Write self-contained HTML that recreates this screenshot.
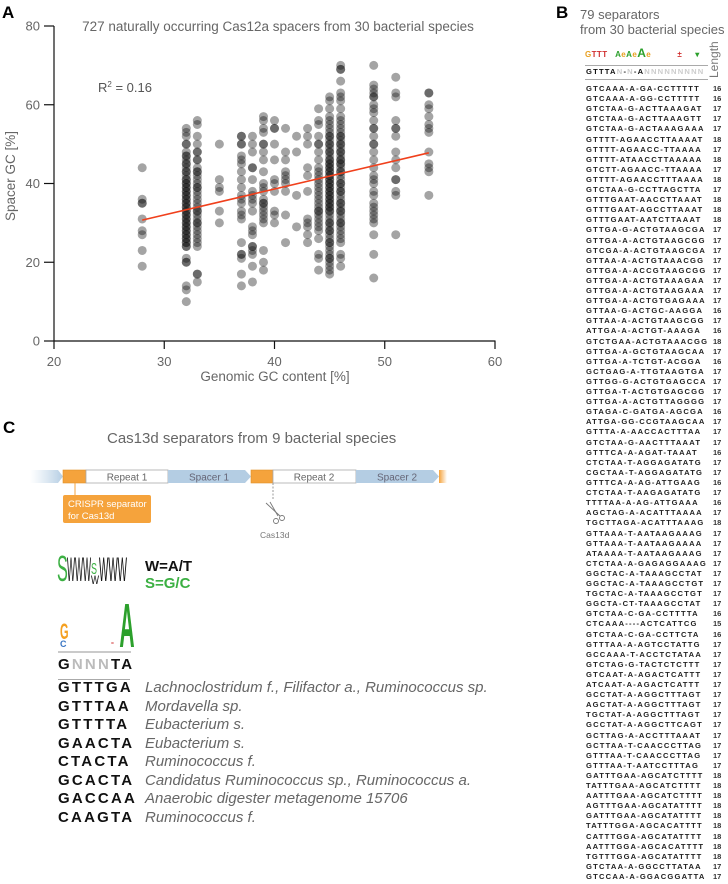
<!DOCTYPE html>
<html><head><meta charset="utf-8">
<style>
body{margin:0;background:#fff;width:728px;height:884px;overflow:hidden;position:relative;font-family:"Liberation Sans",sans-serif}
.abs{position:absolute}
.pl{font-weight:bold;font-size:17px;color:#000}
.seqrow{position:absolute;left:586px;font-family:"Liberation Sans",sans-serif;font-weight:bold;font-size:7.6px;letter-spacing:1.2px;color:#222;white-space:pre;line-height:10px}
.lenc{position:absolute;left:713px;font-size:7.5px;font-weight:bold;color:#333;line-height:10px}
.cseq{position:absolute;left:58px;font-weight:bold;font-size:15px;letter-spacing:2.2px;color:#111;line-height:18px}
.csp{position:absolute;left:145px;font-style:italic;font-size:15px;color:#666;line-height:18px;white-space:nowrap}
</style></head><body>
<div class="abs pl" style="left:2px;top:3px">A</div>
<div class="abs pl" style="left:556px;top:3px">B</div>
<div class="abs pl" style="left:3px;top:418px">C</div>

<svg class="abs" style="left:0;top:0" width="560" height="390">
<text x="278" y="31" text-anchor="middle" font-size="13.5" fill="#666">727 naturally occurring Cas12a spacers from 30 bacterial species</text>
<text x="98" y="92" font-size="13" fill="#555">R<tspan font-size="8" dy="-5">2</tspan><tspan dy="5"> = 0.16</tspan></text>
<g id="pts"></g>
<g id="axes"></g>
<text transform="translate(15,176) rotate(-90)" text-anchor="middle" font-size="13.5" fill="#666">Spacer GC [%]</text>
<text x="275" y="381" text-anchor="middle" font-size="13.5" fill="#666">Genomic GC content [%]</text>
</svg>
<script>
const xTicks=[20,30,40,50,60];
const yTicks=[0,20,40,60,80];
const colX=[28,32,33,35,37,38,39,40,41,42,43,44,45,46,49,51,54];
const colY=[
[44,36,35,35,31,28,27,23,19],
[54,53,52,50,50,48,47,47,46,45,45,44,43,43,42,41,41,40,40,39,39,38,38,37,37,36,36,35,35,34,34,33,33,32,32,31,31,30,30,29,29,28,28,27,27,26,26,25,25,24,24,21,20,20,14,13,10],
[56,55,52,50,48,48,46,46,44,43,43,42,41,40,39,39,38,37,36,35,34,33,33,32,31,30,30,29,28,27,26,25,24,17,17,15],
[50,41,39,38,33,30],
[52,52,50,50,47,46,45,43,41,39,37,36,35,33,32,31,25,22,22,21,17,14],
[52,50,48,44,44,41,38,37,36,35,33,29,28,27,24,24,23,22,19,15],
[57,56,54,53,50,50,48,46,43,40,39,38,36,35,35,34,33,32,31,30,23,20,18],
[56,54,54,50,46,41,40,38,33,32,30],
[54,48,46,43,42,41,40,38,32,25],
[52,48,37,29],
[54,52,50,44,42,38,31,30,29,27,25],
[59,56,55,52,50,50,48,46,44,43,42,41,40,39,38,37,36,35,34,33,33,32,31,30,29,28,26,22,21,18],
[62,61,59,57,56,55,54,53,52,52,51,50,50,49,48,48,47,46,46,45,45,44,44,43,43,42,42,41,41,40,40,39,39,38,38,37,37,36,36,35,35,34,34,33,33,32,31,30,30,29,28,28,27,26,25,25,24,23,22,21,21,20,19,18,17],
[70,69,69,66,63,62,61,59,57,56,55,54,53,52,52,51,50,50,49,48,48,47,46,46,45,45,44,43,43,42,41,40,40,39,38,38,37,36,35,35,34,33,33,32,31,30,30,29,28,27,26,25,22,21,19],
[70,65,64,63,62,62,60,59,58,56,54,54,52,50,50,48,46,44,42,41,40,38,37,35,34,33,32,31,30,27,22,16],
[67,63,62,56,54,54,52,48,46,44,41,41,38,37,27],
[63,63,60,59,57,55,54,53,48,45,44,43,37]];
const fitX=[28,54];
const fitY=[30.7,47.8];
const sx=v=>54+(v-20)*(441/40);
const sy=v=>341-v*(315/80);
const NS='http://www.w3.org/2000/svg';
const pg=document.getElementById('pts');
colX.forEach((x,i)=>{colY[i].forEach(y=>{
 const c=document.createElementNS(NS,'circle');
 c.setAttribute('cx',sx(x));c.setAttribute('cy',sy(y));c.setAttribute('r',4.5);
 c.setAttribute('fill','#111');c.setAttribute('fill-opacity','0.38');
 
 
 pg.appendChild(c);});});
const ln=document.createElementNS(NS,'line');
ln.setAttribute('x1',sx(fitX[0]));ln.setAttribute('y1',sy(fitY[0]));
ln.setAttribute('x2',sx(fitX[1]));ln.setAttribute('y2',sy(fitY[1]));
ln.setAttribute('stroke','#f0401c');ln.setAttribute('stroke-width','1.6');


pg.appendChild(ln);
const ax=document.getElementById('axes');
let h='<line x1="54" y1="26" x2="54" y2="341.5" stroke="#111" stroke-width="1.2"/><line x1="54" y1="341" x2="495.5" y2="341" stroke="#111" stroke-width="1.2"/>';
yTicks.forEach(t=>{h+=`<line x1="44" y1="${sy(t)}" x2="54" y2="${sy(t)}" stroke="#111" stroke-width="1.2"/><text x="40" y="${sy(t)+4.5}" text-anchor="end" font-size="13" fill="#666">${t}</text>`;});
xTicks.forEach(t=>{h+=`<line x1="${sx(t)}" y1="341" x2="${sx(t)}" y2="349" stroke="#111" stroke-width="1.2"/><text x="${sx(t)}" y="366" text-anchor="middle" font-size="13" fill="#666">${t}</text>`;});
ax.innerHTML=h;
</script>

<div class="abs" style="left:580px;top:7px;font-size:13px;color:#666;line-height:15px">79 separators<br>from 30 bacterial species</div>
<div class="abs" style="left:585px;top:46px;font-size:8px;font-weight:bold;letter-spacing:0.4px;white-space:pre"><span style="color:#e8a020">G</span><span style="color:#d03030">T</span><span style="color:#d03030">T</span><span style="color:#d03030">T</span>   <span style="color:#2ca02c">A</span><span style="color:#e8a020">e</span><span style="color:#2ca02c">A</span><span style="color:#e8a020">e</span><span style="color:#2ca02c;font-size:12px">A</span><span style="color:#e8a020">e</span>          <span style="color:#d03030">±</span>     <span style="color:#2ca02c">▾</span></div>
<div class="abs" style="left:585px;top:65px;width:123px;border-top:1px solid #aaa"></div>
<div class="seqrow" style="top:67px;color:#111">GTTTA<span style="color:#ccc">N</span>-<span style="color:#ccc">N</span>-A<span style="color:#ccc">NNNNNNNNN</span></div>
<div class="abs" style="left:585px;top:79px;width:123px;border-top:1px solid #aaa"></div>
<div class="abs" style="left:707px;top:78px;transform:rotate(-90deg);transform-origin:0 0;font-size:12px;color:#777">Length</div>
<div id="seqs"></div>
<script>
const seqB=["GTCAAA-A-GA-CCTTTTT","GTCAAA-A-GG-CCTTTTT","GTCTAA-G-ACTTAAAGAT","GTCTAA-G-ACTTAAAGTT","GTCTAA-G-ACTAAAGAAA","GTTTT-AGAACCTTAAAAT","GTTTT-AGAACC-TTAAAA","GTTTT-ATAACCTTAAAAA","GTCTT-AGAACC-TTAAAA","GTTTT-AGAACCTTTAAAA","GTCTAA-G-CCTTAGCTTA","GTTTGAAT-AACCTTAAAT","GTTTGAAT-AGCCTTAAAT","GTTTGAAT-AATCTTAAAT","GTTGA-G-ACTGTAAGCGA","GTTGA-A-ACTGTAAGCGG","GTCGA-A-ACTGTAAGCGA","GTTAA-A-ACTGTAAACGG","GTTGA-A-ACCGTAAGCGG","GTTGA-A-ACTGTAAAGAA","GTTGA-A-ACTGTAAGAAA","GTTGA-A-ACTGTGAGAAA","GTTAA-G-ACTGC-AAGGA","GTTAA-A-ACTGTAAGCGG","ATTGA-A-ACTGT-AAAGA","GTCTGAA-ACTGTAAACGG","GTTGA-A-GCTGTAAGCAA","GTTGA-A-TCTGT-ACGGA","GCTGAG-A-TTGTAAGTGA","GTTGG-G-ACTGTGAGCCA","GTTGA-T-ACTGTGAGCGG","GTTGA-A-ACTGTTAGGGG","GTAGA-C-GATGA-AGCGA","ATTGA-GG-CCGTAAGCAA","GTTTA-A-AACCACTTTAA","GTCTAA-G-AACTTTAAAT","GTTTCA-A-AGAT-TAAAT","CTCTAA-T-AGGAGATATG","CGCTAA-T-AGGAGATATG","GTTTCA-A-AG-ATTGAAG","CTCTAA-T-AAGAGATATG","TTTTAA-A-AG-ATTGAAA","AGCTAG-A-ACATTTAAAA","TGCTTAGA-ACATTTAAAG","GTTAAA-T-AATAAGAAAG","GTTAAA-T-AATAAGAAAA","ATAAAA-T-AATAAGAAAG","CTCTAA-A-GAGAGGAAAG","GGCTAC-A-TAAAGCCTAT","GGCTAC-A-TAAAGCCTGT","TGCTAC-A-TAAAGCCTGT","GGCTA-CT-TAAAGCCTAT","GTCTAA-C-GA-CCTTTTA","CTCAAA----ACTCATTCG","GTCTAA-C-GA-CCTTCTA","GTTTAA-A-AGTCCTATTG","GCCAAA-T-ACCTCTATAA","GTCTAG-G-TACTCTCTTT","GTCAAT-A-AGACTCATTT","ATCAAT-A-AGACTCATTT","GCCTAT-A-AGGCTTTAGT","AGCTAT-A-AGGCTTTAGT","TGCTAT-A-AGGCTTTAGT","GCCTAT-A-AGGCTTCAGT","GCTTAG-A-ACCTTTAAAT","GCTTAA-T-CAACCCTTAG","GTTTAA-T-CAACCCTTAG","GTTTAA-T-AATCCTTTAG","GATTTGAA-AGCATCTTTT","TATTTGAA-AGCATCTTTT","AATTTGAA-AGCATCTTTT","AGTTTGAA-AGCATATTTT","GATTTGAA-AGCATATTTT","TATTTGGA-AGCACATTTT","CATTTGGA-AGCATATTTT","AATTTGGA-AGCACATTTT","TGTTTGGA-AGCATATTTT","GTCTAA-A-GGCCTTATAA","GTCCAA-A-GGACGGATTA"];
const cont=document.getElementById('seqs');
const step=(877-89)/(seqB.length-1);
seqB.forEach((s,i)=>{
 const d=document.createElement('div');d.className='seqrow';d.style.top=(84+i*step)+'px';d.textContent=s;
 
 
 cont.appendChild(d);
 const l=document.createElement('div');l.className='lenc';l.style.top=(84+i*step)+'px';l.textContent=s.replace(/-/g,'').length;
 
 
 cont.appendChild(l);
});
</script>

<div class="abs" style="left:107px;top:430px;font-size:15px;color:#666">Cas13d separators from 9 bacterial species</div>
<svg class="abs" style="left:0;top:460px" width="460" height="90">
<defs><linearGradient id="fl" x1="0" x2="1"><stop offset="0" stop-color="#c5d9ea" stop-opacity="0"/><stop offset="1" stop-color="#b4cde3"/></linearGradient>
<linearGradient id="fr" x1="0" x2="1"><stop offset="0" stop-color="#f5a33c"/><stop offset="1" stop-color="#f5a33c" stop-opacity="0"/></linearGradient></defs>
<polygon points="30,10 58,10 63,16.5 58,23 30,23" fill="url(#fl)"/>
<rect x="63" y="10" width="23" height="13" fill="#f5a33c" stroke="#e0902a" stroke-width="0.6"/>
<rect x="86" y="10" width="82" height="13" fill="#fff" stroke="#aaa" stroke-width="0.8"/>
<text x="127" y="20.5" text-anchor="middle" font-size="10" fill="#666">Repeat 1</text>
<polygon points="168,10 245,10 251,16.5 245,23 168,23" fill="#b4cde3"/>
<text x="209" y="20.5" text-anchor="middle" font-size="10" fill="#667">Spacer 1</text>
<rect x="251" y="10" width="22" height="13" fill="#f5a33c" stroke="#e0902a" stroke-width="0.6"/>
<rect x="273" y="10" width="83" height="13" fill="#fff" stroke="#aaa" stroke-width="0.8"/>
<text x="314" y="20.5" text-anchor="middle" font-size="10" fill="#666">Repeat 2</text>
<polygon points="356,10 433,10 439,16.5 433,23 356,23" fill="#b4cde3"/>
<text x="397" y="20.5" text-anchor="middle" font-size="10" fill="#667">Spacer 2</text>
<rect x="439" y="10" width="8" height="13" fill="url(#fr)"/>
<line x1="75" y1="23" x2="75" y2="35" stroke="#f5a33c" stroke-width="1"/>
<rect x="63" y="35" width="88" height="28" rx="2" fill="#f5a33c"/>
<text x="68" y="47" font-size="9.5" fill="#fff">CRISPR separator</text>
<text x="68" y="59" font-size="9.5" fill="#fff">for Cas13d</text>
<line x1="273" y1="23" x2="273" y2="40" stroke="#999" stroke-width="1" stroke-dasharray="2,1.5"/>
<g stroke="#777" fill="none" stroke-width="0.9"><line x1="266" y1="43" x2="280" y2="56"/><line x1="270" y1="42" x2="278" y2="56"/><circle cx="276" cy="61" r="2.5"/><circle cx="282" cy="58" r="2.5"/></g>
<text x="260" y="78" font-size="8.5" fill="#777">Cas13d</text>
</svg>

<svg class="abs" style="left:55px;top:548px" width="80" height="40">
<text x="2" y="33" font-size="36" fill="#3cb043" transform="translate(2,33) scale(0.45,1) translate(-2,-33)">S</text>
<text x="12" y="33" font-size="34" fill="#111" textLength="24" lengthAdjust="spacingAndGlyphs">WWW</text>
<text x="36" y="26" font-size="16" fill="#3cb043" textLength="6" lengthAdjust="spacingAndGlyphs">S</text>
<text x="36" y="36" font-size="12" fill="#111" textLength="8" lengthAdjust="spacingAndGlyphs">W</text>
<text x="44" y="33" font-size="34" fill="#111" textLength="28" lengthAdjust="spacingAndGlyphs">WWW</text>
</svg>
<div class="abs" style="left:145px;top:558px;font-size:15px;font-weight:bold;color:#111;line-height:18px">W=A/T</div>
<div class="abs" style="left:145px;top:575px;font-size:15px;font-weight:bold;color:#3cb043;line-height:18px">S=G/C</div>
<svg class="abs" style="left:55px;top:592px" width="80" height="62">
<text x="5" y="47" font-size="22" font-weight="bold" fill="#f5a020" transform="translate(5,47) scale(0.5,1) translate(-5,-47)">G</text>
<text x="5" y="55" font-size="9" font-weight="bold" fill="#3a76c4">C</text>
<text x="56" y="53" font-size="5" fill="#d03030">=</text>
<text x="60" y="55" font-size="78" font-weight="bold" fill="#2ca02c" transform="translate(66,55) scale(0.27,0.8) translate(-66,-55)">A</text>
<line x1="3" y1="60" x2="76" y2="60" stroke="#aaa" stroke-width="1.2"/>
</svg>
<div class="cseq" style="top:656px">G<span style="color:#bbb">NNN</span>TA</div>
<div class="abs" style="left:58px;top:679px;width:72px;border-top:1.5px solid #aaa"></div>
<div class="cseq" style="top:679px">GTTTGA</div>
<div class="csp" style="top:679px">Lachnoclostridum f., Filifactor a., Ruminococcus sp.</div>
<div class="cseq" style="top:697.5px">GTTTAA</div>
<div class="csp" style="top:697.5px">Mordavella sp.</div>
<div class="cseq" style="top:716px">GTTTTA</div>
<div class="csp" style="top:716px">Eubacterium s.</div>
<div class="cseq" style="top:734.5px">GAACTA</div>
<div class="csp" style="top:734.5px">Eubacterium s.</div>
<div class="cseq" style="top:753px">CTACTA</div>
<div class="csp" style="top:753px">Ruminococcus f.</div>
<div class="cseq" style="top:771.5px">GCACTA</div>
<div class="csp" style="top:771.5px">Candidatus Ruminococcus sp., Ruminococcus a.</div>
<div class="cseq" style="top:790px">GACCAA</div>
<div class="csp" style="top:790px">Anaerobic digester metagenome 15706</div>
<div class="cseq" style="top:808.5px">CAAGTA</div>
<div class="csp" style="top:808.5px">Ruminococcus f.</div>
</body></html>
